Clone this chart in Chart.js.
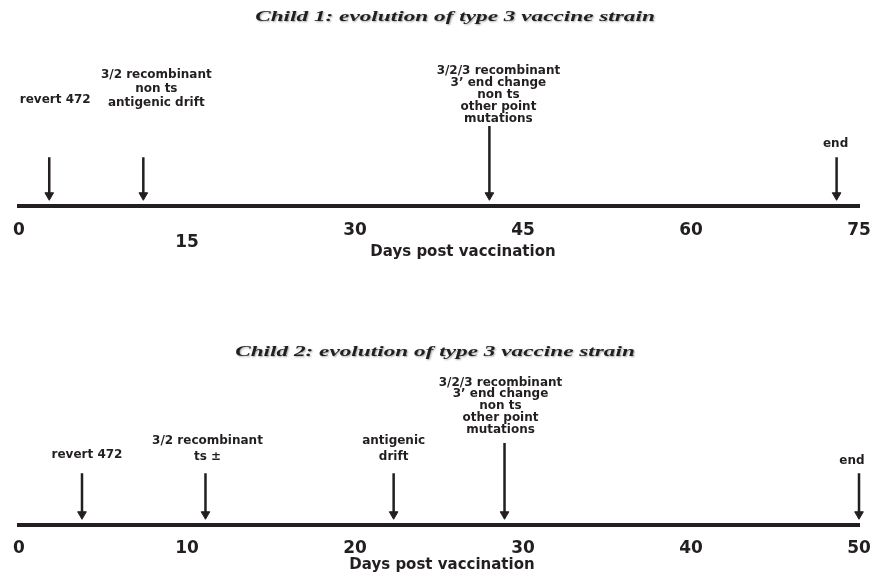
<!DOCTYPE html>
<html lang="en">
<head>
<meta charset="UTF-8">
<title>Evolution of type 3 vaccine strain</title>
<script src="https://cdn.jsdelivr.net/npm/chart.js"></script>
<style>
  body { margin: 0; background: #fff; overflow: hidden; }
  canvas { position: absolute; left: 0; }
  #child1 { top: 0; }
  #child2 { top: 319px; }
</style>
</head>
<body>
<canvas id="child1" width="877" height="266"></canvas>
<canvas id="child2" width="877" height="258"></canvas>
<script>
// Child 1: days post vaccination at which each change was seen
const child1Days = [2.7, 11.1, 42, 73];
const child1Events = [
  ['revert 472'],
  ['3/2 recombinant', 'non ts', 'antigenic drift'],
  ['3/2/3 recombinant', '3\u2019 end change', 'non ts', 'other point', 'mutations'],
  ['end']
];
const child1Ticks = [0, 15, 30, 45, 60, 75];

// Child 2
const child2Days = [3.75, 11.1, 22.3, 28.9, 50];
const child2Events = [
  ['revert 472'],
  ['3/2 recombinant', 'ts \u00b1'],
  ['antigenic', 'drift'],
  ['3/2/3 recombinant', '3\u2019 end change', 'non ts', 'other point', 'mutations'],
  ['end']
];
const child2Ticks = [0, 10, 20, 30, 40, 50];

const INK = '#231f20';

// layout only: y values are px above the axis line (y scale is 0..205 px)
const layout1 = {
  title: 'Child 1: evolution of type 3 vaccine strain', titleX: 455, titleY: 17,
  captionX: 463, captionY: 252,
  arrowTop: [50, 50, 82, 50],
  labelDx: [6, 13, 9, -1],
  labelTop: [109, 134, 138, 64],
  labelGap: [0, 14, 12.2, 0],
  tickGap: 19, padBottom: 17.2, lowered: [15]
};
const layout2 = {
  title: 'Child 2: evolution of type 3 vaccine strain', titleX: 435, titleY: 33,
  captionX: 442, captionY: 246,
  arrowTop: [53, 53, 53, 84, 53],
  labelDx: [5, 2, 0, -4, -7],
  labelTop: [72, 86, 86, 146, 66],
  labelGap: [0, 16, 16, 12, 0],
  tickGap: 18, padBottom: 22.1, lowered: []
};

function annotate(events, days, lay) {
  return {
    id: 'annotate',
    afterDraw(chart) {
      const {ctx} = chart;
      const x = chart.scales.x, y = chart.scales.y;
      ctx.save();
      ctx.fillStyle = INK;
      ctx.textAlign = 'center';
      ctx.textBaseline = 'middle';
      ctx.font = 'bold 12px "DejaVu Sans", sans-serif';
      events.forEach((lines, i) => {
        const px = x.getPixelForValue(days[i]) + lay.labelDx[i];
        lines.forEach((t, j) => {
          ctx.fillText(t, px, y.getPixelForValue(lay.labelTop[i] - j * lay.labelGap[i]));
        });
      });
      ctx.font = 'bold 15px "DejaVu Sans", sans-serif';
      ctx.fillText('Days post vaccination', lay.captionX, lay.captionY);

      // the title in the original is a wide bold italic serif
      ctx.font = 'italic bold 15px "Liberation Serif", serif';
      ctx.shadowColor = 'rgba(0,0,0,0.35)';
      ctx.shadowBlur = 2;
      ctx.shadowOffsetX = 1;
      ctx.shadowOffsetY = 1;
      ctx.translate(lay.titleX, lay.titleY);
      ctx.scale(1.55, 1);
      ctx.fillText(lay.title, 0, 0);
      ctx.restore();
    }
  };
}

function timeline(id, days, events, ticks, lay) {
  const datasets = days.map((d, i) => ({
    data: [{x: d, y: lay.arrowTop[i]}, {x: d, y: 11}],
    borderColor: INK,
    borderWidth: 2.5,
    pointRadius: [0, 5],
    pointStyle: 'triangle',
    pointRotation: 180,
    pointBackgroundColor: INK,
    pointBorderColor: INK,
    pointBorderWidth: 1,
    clip: false
  }));

  new Chart(document.getElementById(id), {
    type: 'line',
    data: {datasets: datasets},
    options: {
      responsive: false,
      animation: false,
      devicePixelRatio: 1,
      events: [],
      layout: {padding: {left: 19, right: 18, top: 0, bottom: lay.padBottom}},
      plugins: {legend: {display: false}, tooltip: {enabled: false}},
      scales: {
        x: {
          type: 'linear',
          min: ticks[0],
          max: ticks[ticks.length - 1],
          afterBuildTicks: ax => { ax.ticks = ticks.map(v => ({value: v})); },
          // hidden tick marks keep the labels clear of the axis line
          grid: {display: false, drawTicks: true, tickLength: lay.tickGap},
          border: {display: true, color: INK, width: 4},
          ticks: {
            color: INK,
            padding: 0,
            maxRotation: 0,
            autoSkip: false,
            font: {family: '"DejaVu Sans", sans-serif', weight: 'bold', size: 17, lineHeight: 0.7},
            callback: v => lay.lowered.includes(v) ? ['', String(v)] : String(v)
          }
        },
        y: {display: false, min: 0, max: 205}
      }
    },
    plugins: [annotate(events, days, lay)]
  });
}

timeline('child1', child1Days, child1Events, child1Ticks, layout1);
timeline('child2', child2Days, child2Events, child2Ticks, layout2);
</script>
</body>
</html>
